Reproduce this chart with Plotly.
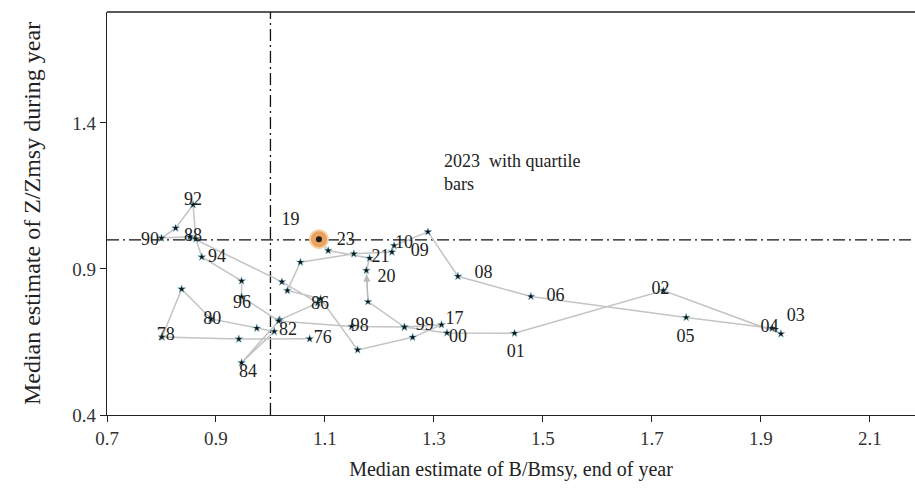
import plotly.graph_objects as go

# Trajectory (year, B/Bmsy, Z/Zmsy)
years = ["76", "77", "78", "79", "80", "81", "82", "84", "85", "86", "87", "88",
         "90", "91", "92", "93", "94", "95", "96", "97", "98", "99", "00", "01",
         "02", "03", "04", "05", "06", "07", "08", "09", "10", "11", "12", "13",
         "14", "15", "16", "17", "18", "19", "20", "21", "22", "23"]
b_bmsy = [1.072, 0.942, 0.801, 0.837, 0.891, 0.975, 1.007, 0.947, 1.017, 1.087, 1.021, 0.852,
          0.800, 0.826, 0.858, 0.863, 0.874, 0.947, 0.947, 1.015, 1.149, 1.246, 1.324, 1.448,
          1.721, 1.937, 1.921, 1.763, 1.478, 1.344, 1.289, 1.227, 1.223, 1.153, 1.055, 1.031,
          1.092, 1.160, 1.261, 1.314, 1.246, 1.179, 1.176, 1.182, 1.106, 1.089]
z_zmsy = [0.661, 0.660, 0.667, 0.831, 0.729, 0.697, 0.686, 0.579, 0.726, 0.784, 0.856, 1.010,
          1.006, 1.040, 1.120, 1.003, 0.941, 0.859, 0.805, 0.722, 0.703, 0.701, 0.681, 0.680,
          0.826, 0.678, 0.697, 0.734, 0.806, 0.875, 1.027, 0.980, 0.958, 0.952, 0.923, 0.826,
          0.798, 0.623, 0.666, 0.709, 0.701, 0.788, 0.895, 0.937, 0.963, 1.002]

# Year labels as drawn on the chart
label_text = ["76", "78", "80", "82", "84", "86", "88", "90", "92", "94", "96", "98",
              "99", "00", "17", "01", "02", "03", "04", "05", "06", "08", "09", "10",
              "19", "20", "21", "23"]
label_x = [1.096, 0.808, 0.893, 1.032, 0.959, 1.091, 0.858, 0.779, 0.858, 0.902, 0.948, 1.164,
           1.283, 1.344, 1.338, 1.450, 1.716, 1.964, 1.916, 1.762, 1.523, 1.391, 1.274, 1.245,
           1.037, 1.213, 1.202, 1.138]
label_y = [0.661, 0.671, 0.726, 0.688, 0.544, 0.777, 1.010, 0.997, 1.134, 0.938, 0.781, 0.702,
           0.705, 0.664, 0.728, 0.613, 0.829, 0.739, 0.698, 0.664, 0.805, 0.883, 0.959, 0.986,
           1.065, 0.872, 0.940, 0.997]

ref_b = 1.0
ref_z = 1.0
x_ticks = [0.7, 0.9, 1.1, 1.3, 1.5, 1.7, 1.9, 2.1]
y_ticks = [0.4, 0.9, 1.4]
note = "2023  with quartile<br>bars"
note_pos = (1.314, 1.23)

serif = "Liberation Serif, Times New Roman, serif"

fig = go.Figure()
fig.add_trace(go.Scatter(
    x=b_bmsy, y=z_zmsy, mode="lines+markers",
    line=dict(color="#c4c4c4", width=1.5),
    marker=dict(symbol="star", size=6, color="#111111",
                line=dict(color="#7fc8e0", width=0.5)),
    hoverinfo="skip", showlegend=False))

# 2023 point
fig.add_trace(go.Scatter(
    x=[b_bmsy[-1]], y=[z_zmsy[-1]], mode="markers",
    marker=dict(symbol="circle", size=18, color="#e9a15e",
                line=dict(color="#f4cfa6", width=2)),
    hoverinfo="skip", showlegend=False))
fig.add_trace(go.Scatter(
    x=[b_bmsy[-1]], y=[z_zmsy[-1]], mode="markers",
    marker=dict(symbol="circle", size=6, color="#1a1a1a"),
    hoverinfo="skip", showlegend=False))

fig.add_trace(go.Scatter(
    x=label_x, y=label_y, mode="text", text=label_text,
    textfont=dict(family=serif, size=18, color="#222222"),
    hoverinfo="skip", showlegend=False))

# arrow from 2019 to 2020
i19 = years.index("19")
i20 = years.index("20")
fig.add_annotation(x=b_bmsy[i20], y=z_zmsy[i20], ax=b_bmsy[i19], ay=z_zmsy[i19],
                   xref="x", yref="y", axref="x", ayref="y", text="",
                   showarrow=True, arrowhead=2, arrowsize=1.2, arrowwidth=1.2,
                   arrowcolor="#b8b8b8", standoff=4)

fig.add_annotation(x=note_pos[0], y=note_pos[1], xref="x", yref="y", text=note,
                   showarrow=False, xanchor="left", yanchor="middle", align="left",
                   font=dict(family=serif, size=18, color="#222222"))

dash = "12px,4px,2px,4px"
fig.add_shape(type="line", xref="x", yref="paper", x0=ref_b, x1=ref_b, y0=0, y1=1,
              line=dict(color="#111111", width=1.3, dash=dash), layer="below")
fig.add_shape(type="line", xref="paper", yref="y", x0=0, x1=1, y0=ref_z, y1=ref_z,
              line=dict(color="#111111", width=1.3, dash=dash), layer="below")
fig.add_shape(type="line", xref="paper", yref="paper", x0=0, x1=1, y0=1, y1=1,
              line=dict(color="#222222", width=1.3))

fig.update_layout(
    width=915, height=497,
    margin=dict(l=107, r=0, t=12, b=82),
    paper_bgcolor="white", plot_bgcolor="white",
    font=dict(family=serif, size=18, color="#222222"),
    xaxis=dict(range=[0.7, 2.183], tickvals=x_ticks,
               ticktext=[f"{v:.1f}" for v in x_ticks],
               showgrid=False, zeroline=False, showline=True, linecolor="#222222",
               linewidth=1.3, ticks="outside", ticklen=6, tickcolor="#222222",
               tickfont=dict(family=serif, size=19, color="#333333"),
               title=dict(text="Median estimate of B/Bmsy, end of year",
                          font=dict(family=serif, size=20, color="#222222"), standoff=14)),
    yaxis=dict(range=[0.4, 1.78], tickvals=y_ticks,
               ticktext=[f"{v:.1f}" for v in y_ticks],
               showgrid=False, zeroline=False, showline=True, linecolor="#222222",
               linewidth=1.3, ticks="outside", ticklen=6, tickcolor="#222222",
               tickfont=dict(family=serif, size=19, color="#333333"),
               title=dict(text="Median estimate of Z/Zmsy during year",
                          font=dict(family=serif, size=24, color="#222222"), standoff=24)),
)

fig.write_html("out.html")
